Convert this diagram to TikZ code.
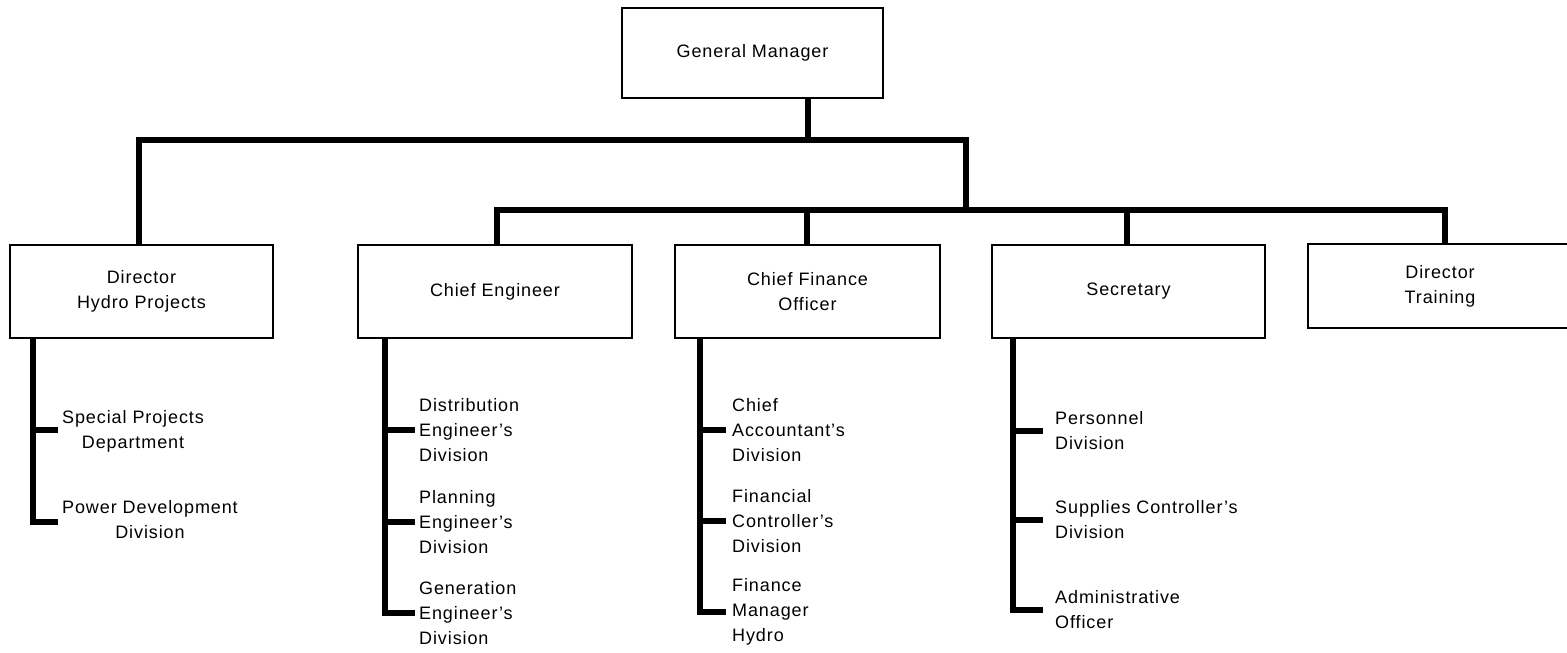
\documentclass[tikz,border=0pt]{standalone}
\usepackage{fontspec}
\setmainfont{Liberation Sans}[LetterSpace=5]
\begin{document}
\begin{tikzpicture}[x=1pt,y=-1pt,
  box/.style={draw, line width=2pt, inner sep=0pt, outer sep=0pt, align=center,
              font=\fontsize{18}{25}\selectfont},
  conn/.style={line width=5.5pt, line join=miter},
  twig/.style={line width=5.5pt},
  item/.style={anchor=west, inner sep=0pt, align=left, font=\fontsize{18}{25}\selectfont},
  citem/.style={anchor=west, inner sep=0pt, align=center, font=\fontsize{18}{25}\selectfont}]
\useasboundingbox (0,0) rectangle (1567,653);
\clip (0,0) rectangle (1567,653);
\fill[white] (0,0) rectangle (1567,653);

% boxes
\node[box, minimum width=261pt, minimum height=90pt] (GM) at (752.5,53) {General Manager};
\node[box, minimum width=263pt, minimum height=93pt] (DHP) at (141.5,291.5) {Director\\Hydro Projects};
\node[box, minimum width=274pt, minimum height=93pt] (CE) at (495,291.5) {Chief Engineer};
\node[box, minimum width=265pt, minimum height=93pt] (CFO) at (807.5,291.5) {Chief Finance\\Officer};
\node[box, minimum width=273pt, minimum height=93pt] (SEC) at (1128.5,291.5) {Secretary};
\node[box, minimum width=264pt, minimum height=84pt] (DT) at (1440,286) {Director\\Training};

% bus coordinates
\coordinate (gmx) at (808,140);
\coordinate (ul) at (139,140);
\coordinate (ur) at (966,140);
\coordinate (ll) at (497,210);
\coordinate (lr) at (1445,210);
\coordinate (lm) at (966,210);
\coordinate (s3) at (807,210);
\coordinate (s4) at (1127,210);

\draw[conn] (GM.south -| gmx) -- (gmx);
\draw[conn] (DHP.north -| ul) -- (ul) -- (ur) -- (lm);
\draw[conn] (CE.north -| ll) -- (ll) -- (lr) -- (DT.north -| lr);
\draw[conn] (s3) -- (CFO.north -| s3);
\draw[conn] (s4) -- (SEC.north -| s4);

% Director Hydro Projects sub-items
\node[citem] (sp) at (62,431) {Special Projects\\Department};
\node[citem] (pd) at (62,520) {Power Development\\Division};
\coordinate (d1) at (33,430);
\coordinate (d2) at (33,522);
\draw[conn] (DHP.south -| d1) -- (d2) -- ([xshift=-4pt]pd.west |- d2);
\draw[twig] (d1) -- ([xshift=-4pt]sp.west |- d1);

% Chief Engineer sub-items
\node[item] (ce1) at (419,430) {Distribution\\Engineer's\\Division};
\node[item] (ce2) at (419,522) {Planning\\Engineer's\\Division};
\node[item] (ce3) at (419,613) {Generation\\Engineer's\\Division};
\coordinate (c1) at (385,430);
\coordinate (c2) at (385,522);
\coordinate (c3) at (385,613);
\draw[conn] (CE.south -| c1) -- (c3) -- ([xshift=-4pt]ce3.west |- c3);
\draw[twig] (c1) -- ([xshift=-4pt]ce1.west |- c1);
\draw[twig] (c2) -- ([xshift=-4pt]ce2.west |- c2);

% Chief Finance Officer sub-items
\node[item] (cf1) at (732,430) {Chief\\Accountant's\\Division};
\node[item] (cf2) at (732,521) {Financial\\Controller's\\Division};
\node[item] (cf3) at (732,612) {Finance\\Manager\\Hydro};
\coordinate (f1) at (700,430);
\coordinate (f2) at (700,521);
\coordinate (f3) at (700,612);
\draw[conn] (CFO.south -| f1) -- (f3) -- ([xshift=-6pt]cf3.west |- f3);
\draw[twig] (f1) -- ([xshift=-6pt]cf1.west |- f1);
\draw[twig] (f2) -- ([xshift=-6pt]cf2.west |- f2);

% Secretary sub-items
\node[item] (se1) at (1055,431) {Personnel\\Division};
\node[item] (se2) at (1055,520) {Supplies Controller's\\Division};
\node[item] (se3) at (1055,610) {Administrative\\Officer};
\coordinate (e1) at (1013,431);
\coordinate (e2) at (1013,520);
\coordinate (e3) at (1013,610);
\draw[conn] (SEC.south -| e1) -- (e3) -- ([xshift=-12pt]se3.west |- e3);
\draw[twig] (e1) -- ([xshift=-12pt]se1.west |- e1);
\draw[twig] (e2) -- ([xshift=-12pt]se2.west |- e2);
\end{tikzpicture}
\end{document}
